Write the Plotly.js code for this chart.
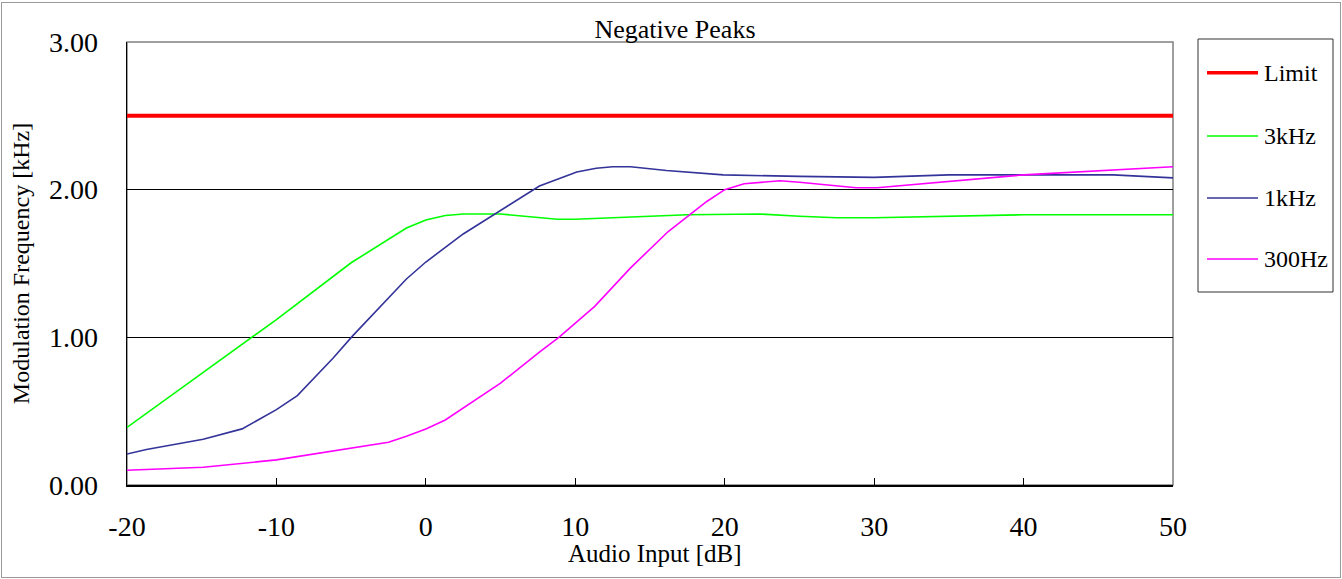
<!DOCTYPE html>
<html>
<head>
<meta charset="utf-8">
<script src="https://cdn.plot.ly/plotly-3.0.1.min.js"></script>
<style>
  html, body { margin: 0; padding: 0; background: #fff; }
  #chart { position: absolute; left: 0; top: 0; width: 1342px; height: 579px; }
  #frame { position: absolute; left: 1px; top: 2px; width: 1338px; height: 574px; border: 1px solid #9a9a9a; pointer-events: none; }
</style>
</head>
<body>
<div id="chart"></div>
<div id="frame"></div>
<script>
// ---- data ----
const seriesNames = ["Limit", "3kHz", "1kHz", "300Hz"];
const seriesColors = ["#FF0000", "#00FF00", "#333399", "#FF00FF"];

const limitX = [-20, 50];
const limitY = [2.5, 2.5];

const khz3X = [-20, -10, -5, -1.3, 0, 1.3, 2.5, 5, 8.8, 10, 17.5, 22.4, 25, 27.5, 30, 40, 50];
const khz3Y = [0.39, 1.12, 1.505, 1.74, 1.795, 1.825, 1.835, 1.835, 1.80, 1.80, 1.83, 1.835, 1.82, 1.81, 1.81, 1.83, 1.83];

const khz1X = [-20, -18.7, -14.9, -12.3, -10, -8.6, -6.2, -4.9, -1.3, 0, 2.5, 7.6, 10.1, 11.4, 12.5, 13.7, 16.1, 19.9, 25, 30, 35, 46, 50];
const khz1Y = [0.21, 0.24, 0.31, 0.38, 0.51, 0.605, 0.86, 1.01, 1.395, 1.51, 1.70, 2.025, 2.12, 2.145, 2.155, 2.155, 2.13, 2.10, 2.09, 2.083, 2.10, 2.10, 2.08];

const hz300X = [-20, -14.9, -10, -6.2, -2.5, -1.3, 0, 1.3, 2.5, 3.7, 5, 7.6, 8.9, 11.3, 13.7, 16.2, 18.8, 20, 21.3, 23.7, 25, 28.8, 30.2, 40, 50];
const hz300Y = [0.10, 0.12, 0.17, 0.23, 0.29, 0.33, 0.38, 0.44, 0.52, 0.60, 0.69, 0.90, 1.00, 1.21, 1.47, 1.715, 1.92, 2.00, 2.04, 2.06, 2.05, 2.013, 2.013, 2.10, 2.155];

const xTickVals = [-20, -10, 0, 10, 20, 30, 40, 50];
const xTickText = ["-20", "-10", "0", "10", "20", "30", "40", "50"];
const yTickVals = [0, 1, 2, 3];
const yTickText = ["0.00", "1.00", "2.00", "3.00"];

const chartTitle = "Negative Peaks";
const xTitle = "Audio Input [dB]";
const yTitle = "Modulation Frequency [kHz]";

// ---- chart ----
const FONT = "'Liberation Serif'";
const xs = [limitX, khz3X, khz1X, hz300X];
const ys = [limitY, khz3Y, khz1Y, hz300Y];
const widths = [4, 1.6, 1.6, 1.6];

const traces = seriesNames.map((n, i) => ({
  type: "scatter",
  mode: "lines",
  name: n,
  x: xs[i],
  y: ys[i],
  line: { color: seriesColors[i], width: widths[i] },
  hoverinfo: "skip",
  showlegend: false
}));

// plot area in pixels, to place the legend box in paper coordinates
const PL = 127, PR = 1173, PT = 42, PB = 485;
const px = v => (v - PL) / (PR - PL);
const py = v => (PB - v) / (PB - PT);

const legendRowsY = [72.7, 136, 198, 259];
const shapes = [{
  type: "rect", xref: "paper", yref: "paper", x0: 0, x1: 1, y0: 0, y1: 1,
  line: { color: "#808080", width: 1.5 }, layer: "between"
}, {
  type: "rect", xref: "paper", yref: "paper",
  x0: px(1198), x1: px(1333), y0: py(292), y1: py(39),
  line: { color: "#333", width: 1 }, fillcolor: "#fff", layer: "above"
}];
const annotations = [{
  xref: "paper", yref: "paper", x: px(655), y: py(553),
  xanchor: "center", yanchor: "middle", showarrow: false,
  text: xTitle, font: { family: FONT, size: 25, color: "#000" }
}];
seriesNames.forEach((n, i) => {
  shapes.push({
    type: "line", xref: "paper", yref: "paper",
    x0: px(1207), x1: px(1258), y0: py(legendRowsY[i]), y1: py(legendRowsY[i]),
    line: { color: seriesColors[i], width: widths[i] === 4 ? 3.5 : 1.6 }, layer: "above"
  });
  annotations.push({
    xref: "paper", yref: "paper", x: px(1262), y: py(legendRowsY[i]),
    xanchor: "left", yanchor: "middle", showarrow: false,
    text: n, font: { family: FONT, size: 24, color: "#000" }
  });
});

const layout = {
  width: 1342,
  height: 579,
  margin: { l: PL, r: 1342 - PR, t: PT, b: 579 - PB },
  paper_bgcolor: "#ffffff",
  plot_bgcolor: "#ffffff",
  font: { family: FONT, color: "#000000", size: 24 },
  title: {
    text: chartTitle,
    font: { family: FONT, size: 26, color: "#000" },
    x: 0.503, xref: "container", xanchor: "center",
    y: 1 - 29 / 579, yref: "container", yanchor: "middle"
  },
  xaxis: {
    range: [-20, 50],
    tickvals: xTickVals,
    ticktext: xTickText,
    ticks: "inside",
    ticklen: 7,
    tickwidth: 1,
    tickcolor: "#000",
    showgrid: false,
    zeroline: false,
    showline: true,
    linecolor: "#000",
    linewidth: 1.5,
    ticklabelstandoff: 16,
    tickfont: { family: FONT, size: 28 }
  },
  yaxis: {
    range: [0, 3],
    tickvals: yTickVals,
    ticktext: yTickText,
    ticks: "",
    showgrid: true,
    gridcolor: "#000",
    gridwidth: 1,
    zeroline: false,
    showline: true,
    linecolor: "#000",
    linewidth: 1.5,
    ticklabelstandoff: 22,
    tickfont: { family: FONT, size: 28 },
    title: { text: yTitle, font: { family: FONT, size: 24 }, standoff: 12 }
  },
  shapes: shapes,
  annotations: annotations,
  showlegend: false
};

Plotly.newPlot("chart", traces, layout, { staticPlot: true, displayModeBar: false });
</script>
</body>
</html>
